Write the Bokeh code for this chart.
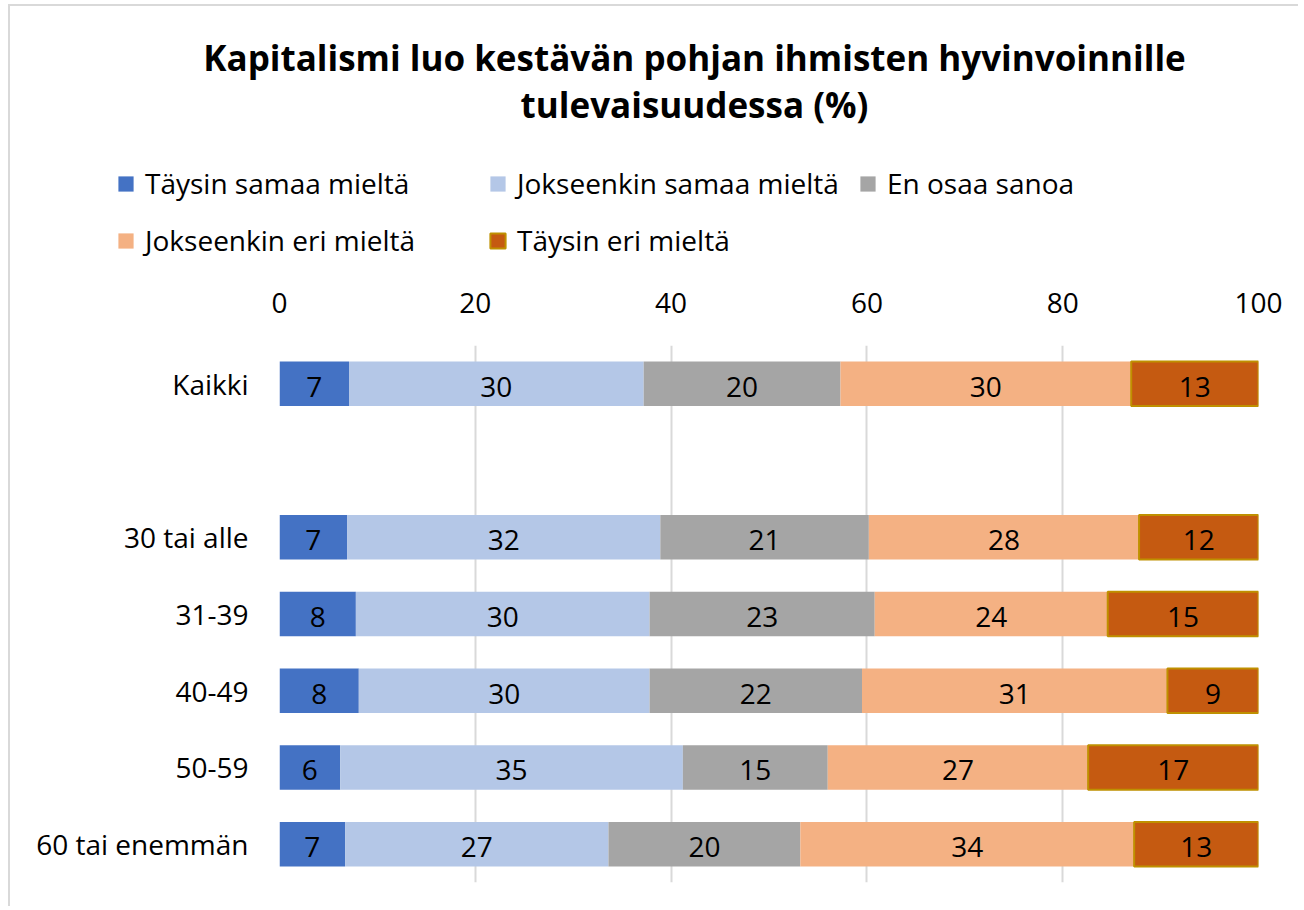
from bokeh.plotting import figure
from bokeh.models import ColumnDataSource, FactorRange, Range1d, Legend, LegendItem, LabelSet, Label
from bokeh.core.properties import value
from bokeh.embed import file_html
from bokeh.resources import INLINE

# ---- data ----
categories = ["Kaikki", "30 tai alle", "31-39", "40-49", "50-59", "60 tai enemmän"]
series = ["Täysin samaa mieltä", "Jokseenkin samaa mieltä", "En osaa sanoa",
          "Jokseenkin eri mieltä", "Täysin eri mieltä"]
taysin_samaa = [7.1, 6.9, 7.8, 8.1, 6.2, 6.7]
jokseenkin_samaa = [30.1, 32.0, 30.0, 29.7, 35.0, 26.9]
en_osaa = [20.1, 21.3, 23.0, 21.7, 14.8, 19.6]
jokseenkin_eri = [29.7, 27.6, 23.8, 31.2, 26.6, 34.1]
taysin_eri = [13.0, 12.2, 15.4, 9.3, 17.4, 12.7]
x_ticks = [0, 20, 40, 60, 80, 100]
title_lines = ["Kapitalismi luo kestävän pohjan ihmisten hyvinvoinnille", "tulevaisuudessa (%)"]

colors = ["#4472C4", "#B4C7E7", "#A5A5A5", "#F4B183", "#C55A11"]
outline = [None, None, None, None, "#BF9000"]

FONT = "Open Sans"
FS = "28px"
BORDER = "2px solid #D9D9D9"
DX = 10            # left margin + border width of the chart box
W = 1290
TOP_H = 261        # header height (border-box, incl. 2px top border)
BOT_H = 641
CANVAS_BOTTOM = 267  # page y of header canvas bottom edge
CHART_TOP = 265      # page y where chart figure starts

# ---------------- header figure: title + legend ----------------
head = figure(width=W, height=TOP_H, x_range=Range1d(0, 1), y_range=Range1d(0, 1),
              x_axis_type=None, y_axis_type=None, output_backend="svg",
              toolbar_location=None, min_border=0,
              styles={"margin-left": "8px", "margin-top": "4px",
                      "border-left": BORDER, "border-top": BORDER})
head.min_border_left = head.min_border_right = head.min_border_top = head.min_border_bottom = 0
head.outline_line_color = None
head.grid.visible = False

for txt, yy in zip(title_lines, [CANVAS_BOTTOM - 57, CANVAS_BOTTOM - 104]):
    head.add_layout(Label(x=694 - DX, y=yy, x_units="screen", y_units="screen", text=txt,
                          text_align="center", text_baseline="alphabetic",
                          text_font=FONT, text_font_style="bold",
                          text_font_size="35px", text_color="black"))

# legend swatches: proxy bars (one bar each, outside the header's visible range)
r1, r2 = CANVAS_BOTTOM - 202, CANVAS_BOTTOM - 259
legend_pos = [(116 - DX, r1), (488 - DX, r1), (858 - DX, r1), (116 - DX, r2), (488 - DX, r2)]
for name, col, lc, loc in zip(series, colors, outline, legend_pos):
    proxy = head.hbar(y=[-5], left=[-5], right=[-4], height=0.5, fill_color=col,
                      line_color=lc, line_width=2 if lc else 0)
    lg = Legend(items=[LegendItem(label=name, renderers=[proxy])], location=loc,
                glyph_width=19, glyph_height=19, label_standoff=10,
                padding=0, margin=0, spacing=0, border_line_color=None,
                background_fill_alpha=0, label_text_font=FONT,
                label_text_font_size=FS, label_text_color="black")
    head.add_layout(lg)

# ---------------- chart figure ----------------
gap = " "
factors = list(reversed([categories[0], gap] + categories[1:]))

p = figure(width=W, height=BOT_H, y_range=FactorRange(*factors, range_padding=0),
           x_range=Range1d(0, 100), x_axis_location="above",
           output_backend="svg", toolbar_location=None,
           min_border_left=279 - DX, min_border_right=W - (1258 - DX),
           min_border_top=345 - CHART_TOP, min_border_bottom=CHART_TOP + BOT_H - 882,
           styles={"margin-left": "8px", "border-left": BORDER})
p.outline_line_color = None

all_vals = [taysin_samaa, jokseenkin_samaa, en_osaa, jokseenkin_eri, taysin_eri]
left = [0.0] * len(categories)
for name, vals, col, lc in zip(series, all_vals, colors, outline):
    right = [l + v for l, v in zip(left, vals)]
    src = ColumnDataSource(dict(
        y=categories, left=left, right=right,
        mid=[(l + r) / 2 for l, r in zip(left, right)],
        lab=[f"{v:.0f}" for v in vals]))
    p.hbar(y="y", left="left", right="right", height=0.58, source=src,
           fill_color=col, line_color=lc, line_width=2 if lc else 0)
    p.add_layout(LabelSet(x="mid", y="y", text="lab", source=src, text_align="center",
                          text_baseline="middle", text_font=value(FONT),
                          text_font_size=value(FS), text_color="black", y_offset=-3))
    left = right

# axes
p.xaxis.ticker = x_ticks
p.xaxis.axis_line_color = None
p.xaxis.major_tick_line_color = None
p.xaxis.minor_tick_line_color = None
p.xaxis.major_tick_out = 0
p.xaxis.major_tick_in = 0
p.xaxis.major_label_standoff = 33
p.xaxis.major_label_text_font = FONT
p.xaxis.major_label_text_font_size = FS
p.xaxis.major_label_text_color = "black"

p.yaxis.axis_line_color = None
p.yaxis.major_tick_line_color = None
p.yaxis.minor_tick_line_color = None
p.yaxis.major_tick_out = 0
p.yaxis.major_tick_in = 0
p.yaxis.major_label_standoff = 31
p.yaxis.major_label_text_font = FONT
p.yaxis.major_label_text_font_size = FS
p.yaxis.major_label_text_color = "black"

p.ygrid.grid_line_color = None
p.xgrid.grid_line_color = "#D9D9D9"
p.xgrid.grid_line_width = 2

open("out.html", "w").write(file_html([head, p], INLINE))
